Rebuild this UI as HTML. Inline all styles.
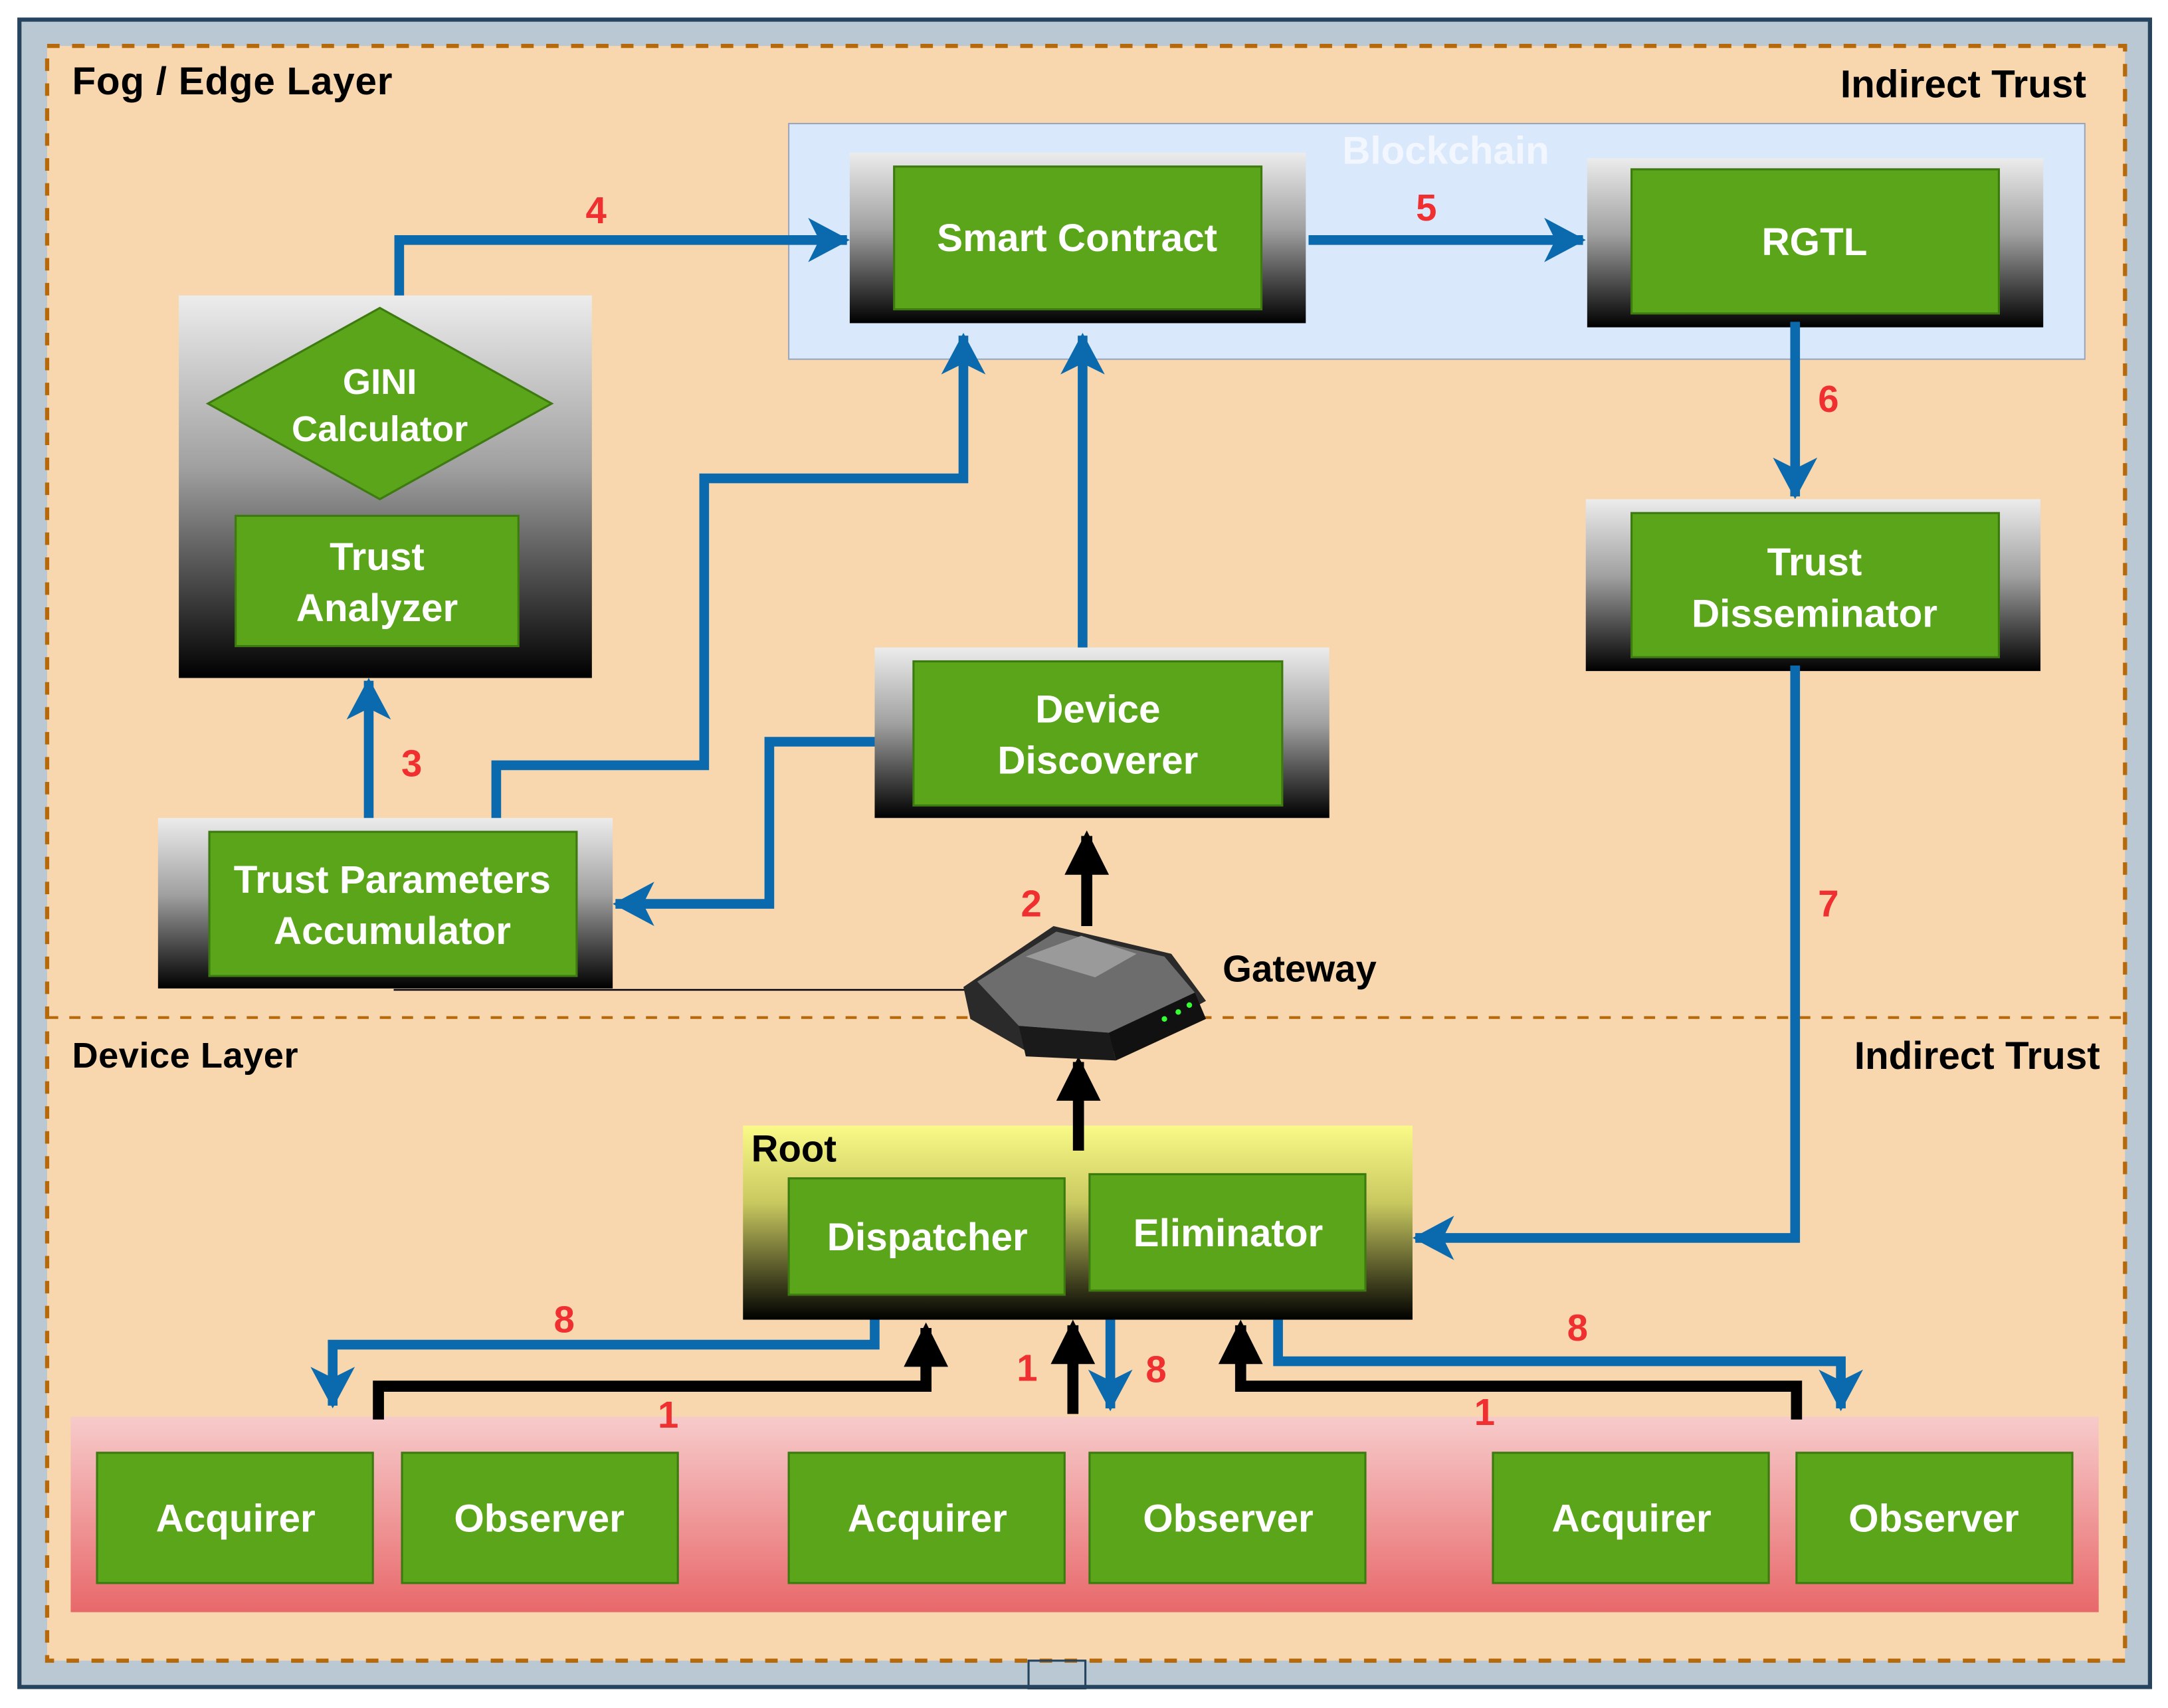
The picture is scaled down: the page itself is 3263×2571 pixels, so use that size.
<!DOCTYPE html>
<html><head><meta charset="utf-8"><style>
html,body{margin:0;padding:0;background:#fff;}
svg{display:block;}
text{font-family:"Liberation Sans",sans-serif;font-weight:bold;}
</style></head><body>
<svg width="3263" height="2571" viewBox="0 0 1564 1232" xmlns="http://www.w3.org/2000/svg">
<defs>
<linearGradient id="gr" x1="0" y1="0" x2="0" y2="1"><stop offset="0" stop-color="#ececec"/><stop offset="0.45" stop-color="#a0a0a0"/><stop offset="1" stop-color="#000"/></linearGradient>
<linearGradient id="yl" x1="0" y1="0" x2="0" y2="1"><stop offset="0" stop-color="#fafa88"/><stop offset="0.4" stop-color="#c8c860"/><stop offset="1" stop-color="#000"/></linearGradient>
<linearGradient id="pk" x1="0" y1="0" x2="0" y2="1"><stop offset="0" stop-color="#f7cbcb"/><stop offset="1" stop-color="#e8686a"/></linearGradient>
<marker id="ab" markerUnits="userSpaceOnUse" markerWidth="40" markerHeight="40" refX="28" refY="18" orient="auto"><path d="M0,2 L30,18 L0,34 L8,18 Z" fill="#0a6aad"/></marker>
<marker id="ak" markerUnits="userSpaceOnUse" markerWidth="40" markerHeight="40" refX="28" refY="18" orient="auto"><path d="M0,2 L32,18 L0,34 Z" fill="#000"/></marker>
</defs>
<rect x="14" y="14" width="1537" height="1203" fill="#bac8d3" stroke="#26445e" stroke-width="3"/>
<rect x="34" y="33" width="1499" height="1165" fill="#f8d6ae" stroke="#b5690a" stroke-width="3" stroke-dasharray="9,9"/>
<line x1="34" y1="734" x2="1533" y2="734" stroke="#b5690a" stroke-width="2" stroke-dasharray="8,8"/>
<rect x="742" y="1198" width="41" height="20" fill="none" stroke="#26445e" stroke-width="1.5"/>
<text x="52" y="68" font-size="28" textLength="231">Fog / Edge Layer</text>
<text x="1505" y="70" font-size="28" text-anchor="end">Indirect Trust</text>
<text x="52" y="770" font-size="26" textLength="163">Device Layer</text>
<text x="1515" y="771" font-size="28" text-anchor="end">Indirect Trust</text>

<rect x="569" y="89" width="935" height="170" fill="#dae8fb" stroke="#9aa6bb" stroke-width="1"/>
<text x="1043" y="118" font-size="28" fill="#f2f6ff" text-anchor="middle">Blockchain</text>

<g stroke="#3d7a10" stroke-width="1.5">
<rect x="613" y="110" width="329" height="123" fill="url(#gr)" stroke="none"/>
<rect x="645" y="120" width="265" height="103" fill="#5aa51a"/>
<rect x="1145" y="114" width="329" height="122" fill="url(#gr)" stroke="none"/>
<rect x="1177" y="122" width="265" height="104" fill="#5aa51a"/>
<rect x="129" y="213" width="298" height="276" fill="url(#gr)" stroke="none"/>
<polygon points="274,222 398,291 274,360 150,291" fill="#5aa51a"/>
<rect x="170" y="372" width="204" height="94" fill="#5aa51a"/>
<rect x="1144" y="360" width="328" height="124" fill="url(#gr)" stroke="none"/>
<rect x="1177" y="370" width="265" height="104" fill="#5aa51a"/>
<rect x="631" y="467" width="328" height="123" fill="url(#gr)" stroke="none"/>
<rect x="659" y="477" width="266" height="104" fill="#5aa51a"/>
<rect x="114" y="590" width="328" height="123" fill="url(#gr)" stroke="none"/>
<rect x="151" y="600" width="265" height="104" fill="#5aa51a"/>
<rect x="536" y="812" width="483" height="140" fill="url(#yl)" stroke="none"/>
<rect x="569" y="850" width="199" height="84" fill="#5aa51a"/>
<rect x="786" y="847" width="199" height="84" fill="#5aa51a"/>
<rect x="51" y="1022" width="1463" height="141" fill="url(#pk)" stroke="none"/>
<rect x="70" y="1048" width="199" height="94" fill="#5aa51a"/>
<rect x="290" y="1048" width="199" height="94" fill="#5aa51a"/>
<rect x="569" y="1048" width="199" height="94" fill="#5aa51a"/>
<rect x="786" y="1048" width="199" height="94" fill="#5aa51a"/>
<rect x="1077" y="1048" width="199" height="94" fill="#5aa51a"/>
<rect x="1296" y="1048" width="199" height="94" fill="#5aa51a"/>
</g>
<g fill="#fff" font-size="28" text-anchor="middle">
<text x="777" y="181">Smart Contract</text>
<text x="1309" y="184">RGTL</text>
<text x="274" y="284" font-size="26">GINI</text>
<text x="274" y="318" font-size="26">Calculator</text>
<text x="272" y="411">Trust</text>
<text x="272" y="448">Analyzer</text>
<text x="1309" y="415">Trust</text>
<text x="1309" y="452">Disseminator</text>
<text x="792" y="521">Device</text>
<text x="792" y="558">Discoverer</text>
<text x="283" y="644">Trust Parameters</text>
<text x="283" y="681">Accumulator</text>
<text x="669" y="902">Dispatcher</text>
<text x="886" y="899">Eliminator</text>
<text x="170" y="1105">Acquirer</text>
<text x="389" y="1105">Observer</text>
<text x="669" y="1105">Acquirer</text>
<text x="886" y="1105">Observer</text>
<text x="1177" y="1105">Acquirer</text>
<text x="1395" y="1105">Observer</text>
</g>
<text x="542" y="838" font-size="27">Root</text>

<line x1="284" y1="714" x2="700" y2="714" stroke="#000" stroke-width="1.2"/>

<g fill="none" stroke="#0a6aad" stroke-width="7" marker-end="url(#ab)">
<path d="M288,213 V173 H611"/>
<path d="M944,173 H1142"/>
<path d="M1295,232 V358"/>
<path d="M1295,480 V893 H1021"/>
<path d="M266,590 V491"/>
<path d="M358,590 V552 H508 V345 H695 V242"/>
<path d="M781,467 V242"/>
<path d="M631,535 H555 V652 H444"/>
<path d="M631,952 V970 H240 V1014"/>
<path d="M801,952 V1016"/>
<path d="M922,952 V982 H1328 V1016"/>
</g>
<g fill="none" stroke="#000" stroke-width="8" marker-end="url(#ak)">
<path d="M273,1024 V1000 H668 V958"/>
<path d="M774,1020 V956"/>
<path d="M1296,1024 V1000 H895 V956"/>
<path d="M778,830 V766"/>
<path d="M784,668 V603"/>
</g>
<g fill="#f03030" font-size="27" text-anchor="middle">
<text x="430" y="161">4</text>
<text x="1029" y="159">5</text>
<text x="1319" y="297">6</text>
<text x="1319" y="661">7</text>
<text x="297" y="560">3</text>
<text x="744" y="661">2</text>
<text x="407" y="961">8</text>
<text x="834" y="997">8</text>
<text x="1138" y="967">8</text>
<text x="482" y="1030">1</text>
<text x="741" y="996">1</text>
<text x="1071" y="1028">1</text>
</g>

<g>
<polygon points="695,712 760,668 845,688 870,722 800,760 740,758 700,735" fill="#2a2a2a"/>
<polygon points="705,708 762,672 840,690 862,716 800,745 735,740" fill="#6d6d6d"/>
<polygon points="740,690 780,675 820,688 790,705" fill="#9a9a9a"/>
<polygon points="800,745 862,716 870,735 805,765" fill="#111"/>
<polygon points="735,740 800,745 805,765 740,762" fill="#1a1a1a"/>
<circle cx="840" cy="735" r="2" fill="#3f3"/><circle cx="850" cy="730" r="2" fill="#3f3"/><circle cx="858" cy="725" r="2" fill="#3f3"/>
</g>
<text x="882" y="708" font-size="27">Gateway</text>
</svg>
</body></html>
